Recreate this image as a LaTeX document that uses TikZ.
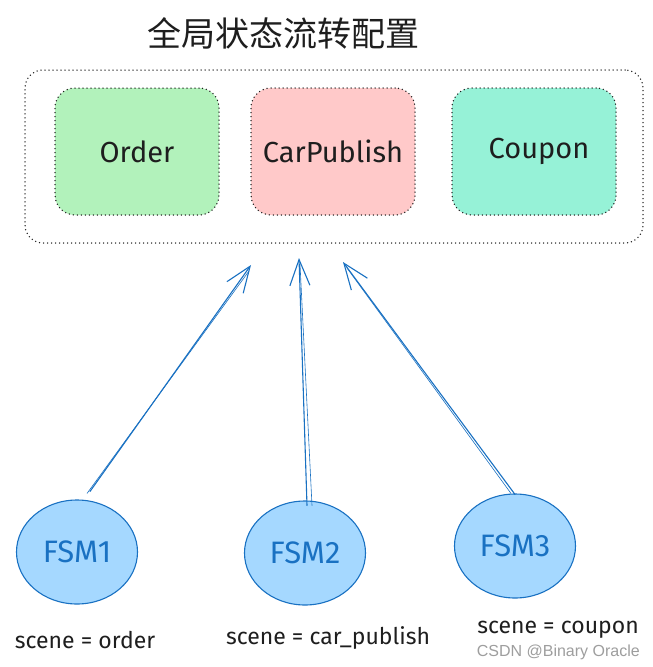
\documentclass[tikz,border=0pt]{standalone}
\usepackage{fontspec}
\setmainfont{Fira Sans}
\newfontfamily\cjk{Noto Sans CJK SC}
\newfontfamily\wmfont{Liberation Sans}
\usetikzlibrary{shapes.geometric,arrows.meta,calc}
\definecolor{ink}{HTML}{1E1E1E}
\definecolor{gfill}{HTML}{B2F2BB}
\definecolor{rfill}{HTML}{FFC9C9}
\definecolor{tfill}{HTML}{96F2D7}
\definecolor{bfill}{HTML}{A5D8FF}
\definecolor{bline}{HTML}{1971C2}
\tikzset{
  dotline/.style={draw=ink, line width=1.5pt, line cap=round, dash pattern=on 0pt off 4pt},
  outerbox/.style={dotline, rounded corners=18pt, minimum width=618pt, minimum height=173pt, inner sep=0pt},
  statebox/.style={dotline, rounded corners=20pt, minimum width=164pt, minimum height=127pt, inner sep=0pt,
     text=ink, font=\fontsize{29}{31}\selectfont},
  fsm/.style={ellipse, draw=bline, fill=bfill, line width=1.1pt, minimum width=121pt, minimum height=104pt,
     inner sep=0pt, text=bline, font=\fontsize{31}{33}\selectfont},
  scenelbl/.style={text=ink, font=\fontsize{23}{25}\selectfont, inner sep=0pt},
  arrowline/.style={draw=bline, line width=1.1pt, line cap=round,
     -{Straight Barb[length=26pt,width=20pt]}},
  sketchline/.style={draw=bline, line width=0.6pt, line cap=round}
}
\begin{document}
\begin{tikzpicture}[x=1pt,y=-1pt]
\useasboundingbox (0,0) rectangle (653,667);
\fill[white] (0,0) rectangle (653,667);

\node[text=ink, font=\cjk\fontsize{34}{36}\selectfont, inner sep=0pt] (title) at (283,33) {全局状态流转配置};

\node[outerbox] (outer) at (334,156.5) {};

\node[statebox, fill=gfill] (order) at (137,151.5) {Order};
\node[statebox, fill=rfill] (car) at (333,151.5) {CarPublish};
\node[statebox, fill=tfill] (coupon) at (534,151.5) {\hspace*{10pt}Coupon};

\node[fsm] (f1) at (77,552) {FSM1};
\node[fsm] (f2) at (305,553) {FSM2};
\node[fsm] (f3) at (515,546) {FSM3};

\node[scenelbl] (s1) at (85,640) {scene = order};
\node[scenelbl] (s2) at (328,638) {scene = car\_publish};
\node[scenelbl] (s3) at (558,630) {scene = coupon};

\coordinate (e1) at (251,265);
\coordinate (e2) at (299,258);
\coordinate (e3) at (343,262);

\draw[arrowline] ($(f1.north)+(13,-8)$) -- (e1);
\draw[sketchline] ($(f1.north)+(10,-6)$) -- ($(e1)+(-2,6)$);
\draw[arrowline] ($(f2.north)+(2,5)$) -- (e2);
\draw[sketchline] ($(f2.north)+(7,5)$) -- ($(e2)+(1,6)$);
\draw[arrowline] ($(f3.north)+(0,1)$) -- (e3);
\draw[sketchline] ($(f3.north)+(-4,0)$) -- ($(e3)+(4,6)$);

\node[text=black!38, font=\wmfont\fontsize{16}{18}\selectfont, inner sep=0pt, anchor=east] (wmk) at (640,652) {CSDN @Binary Oracle};
\end{tikzpicture}
\end{document}
